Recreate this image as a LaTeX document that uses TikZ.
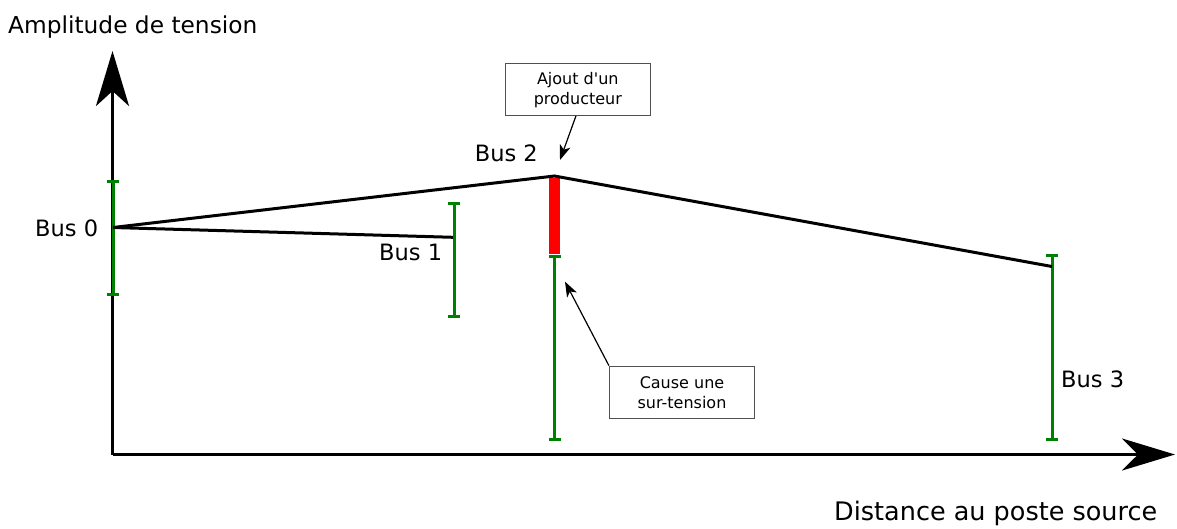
\documentclass[tikz,border=0pt]{standalone}
\usepackage{fontspec}
\setmainfont{DejaVu Sans}
\usetikzlibrary{arrows.meta}
\definecolor{ggreen}{RGB}{0,128,0}
\definecolor{boxgray}{RGB}{80,80,80}
\newcommand{\sq}{\XeTeXglyph\XeTeXglyphindex "quotesingle"\relax}
\begin{document}
\begin{tikzpicture}[x=1pt,y=-1pt,
  axis/.style={line width=3.5pt, line join=miter},
  errbar/.style={draw=ggreen, line width=3pt, {Bar[width=12pt]}-{Bar[width=12pt]}},
  volt/.style={line width=3pt, line join=miter},
  lbl/.style={inner sep=0pt, font=\fontsize{22.5}{27}\selectfont},
  note/.style={draw=boxgray, line width=1.2pt, fill=white, minimum width=145pt, minimum height=52pt, align=center, inner sep=2pt, font=\fontsize{16}{20}\selectfont},
  pointer/.style={line width=1.2pt, -{Stealth[length=15pt,width=11pt,inset=4pt]}}
]
\useasboundingbox (0,0) rectangle (1177,528);
% axes
\coordinate (O) at (112.5,454.5);
\coordinate (ytip) at (112.5,51);
\coordinate (xtip) at (1175,454.5);
\draw[axis,-{Stealth[length=55pt,width=33pt,inset=15pt]}] (O) -- (ytip);
\draw[axis,-{Stealth[length=53pt,width=32pt,inset=16pt]}] (O) -- (xtip);
\node[inner sep=0pt, anchor=base west, font=\fontsize{23.3}{28}\selectfont] (ylab) at (8,33.3) {Amplitude de tension};
\node[inner sep=0pt, anchor=base west, font=\fontsize{25.5}{31}\selectfont] (xlab) at (834,520.5) {Distance au poste source};
% bus coordinates
\coordinate (b0) at (113,227.5);
\coordinate (b1) at (453,237.3);
\coordinate (b2) at (554.5,176);
\coordinate (b3) at (1052,266.5);
% voltage ranges
\coordinate (b0t) at (113,179.5); \coordinate (b0b) at (113,295.7);
\coordinate (b1t) at (454,202); \coordinate (b1b) at (454,317.7);
\coordinate (b2t) at (554.5,255); \coordinate (b2b) at (554.5,441);
\coordinate (b3t) at (1052,253.7); \coordinate (b3b) at (1052,441);
\draw[errbar] (b0t) -- (b0b);
\draw[errbar] (b1t) -- (b1b);
\draw[errbar] (b2t) -- (b2b);
\draw[errbar] (b3t) -- (b3b);
% overvoltage
\fill[red] (549,177.7) rectangle (560,253.8);
% voltage profile
\draw[volt] (b0) -- (b1);
\draw[volt] (b0) -- (b2) -- (b3);
% labels
\node[lbl, anchor=base west] (l0) at (35,236) {Bus 0};
\node[lbl, anchor=base west] (l1) at (379,260.7) {Bus 1};
\node[lbl, anchor=base east] (l2) at (538,161.7) {Bus 2};
\node[lbl, anchor=base west] (l3) at (1061,387.7) {Bus 3};
% notes
\node[note] (n1) at (577.8,89.8) {Ajout d\sq un\\producteur};
\node[note] (n2) at (682,392.2) {Cause une\\sur-tension};
\coordinate (p1) at (560,160);
\coordinate (p2) at (565,281.7);
\draw[pointer] (576,115.8) -- (p1);
\draw[pointer] (n2.north west) -- (p2);
\end{tikzpicture}
\end{document}
